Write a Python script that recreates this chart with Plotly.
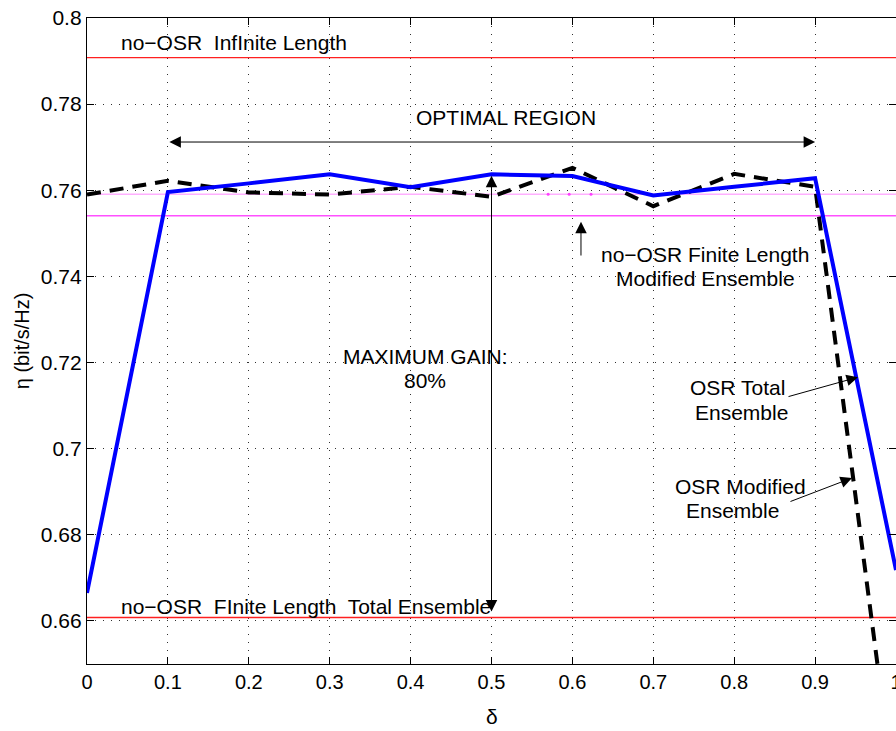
import plotly.graph_objects as go

# ---- data ----
delta = [0.0, 0.1, 0.2, 0.3, 0.4, 0.5, 0.6, 0.7, 0.8, 0.9, 1.0]
osr_total = [0.6665, 0.7596, 0.7616, 0.7637, 0.7607, 0.7637, 0.7633, 0.7588, 0.7608, 0.7628, 0.6718]
osr_modified = [0.7590, 0.7622, 0.7595, 0.7590, 0.7608, 0.7585, 0.7652, 0.7563, 0.7638, 0.7608, 0.6170]

ref_x = [0.0, 1.0]
no_osr_infinite = 0.7908
no_osr_finite_total = 0.6608
no_osr_finite_modified = 0.7541
no_osr_dotted = 0.7591
dot_x = [0.570, 0.596, 0.623]

x_ticks = [0, 0.1, 0.2, 0.3, 0.4, 0.5, 0.6, 0.7, 0.8, 0.9, 1]
x_labels = ["0", "0.1", "0.2", "0.3", "0.4", "0.5", "0.6", "0.7", "0.8", "0.9", "1"]
y_ticks = [0.66, 0.68, 0.70, 0.72, 0.74, 0.76, 0.78, 0.80]
y_labels = ["0.66", "0.68", "0.7", "0.72", "0.74", "0.76", "0.78", "0.8"]

FONT = "Liberation Sans, Arial, Helvetica, sans-serif"

fig = go.Figure()

fig.add_trace(go.Scatter(x=ref_x, y=[no_osr_infinite] * 2, mode="lines",
                         line=dict(color="#ff2020", width=1.2), showlegend=False))
fig.add_trace(go.Scatter(x=ref_x, y=[no_osr_finite_total] * 2, mode="lines",
                         line=dict(color="#ff2020", width=1.4), showlegend=False))
fig.add_trace(go.Scatter(x=ref_x, y=[no_osr_dotted] * 2, mode="lines",
                         line=dict(color="#ffb0ff", width=1.5), showlegend=False))
fig.add_trace(go.Scatter(x=dot_x, y=[no_osr_dotted] * len(dot_x), mode="markers",
                         marker=dict(color="#ff40ff", size=3), showlegend=False))
fig.add_trace(go.Scatter(x=ref_x, y=[no_osr_finite_modified] * 2, mode="lines",
                         line=dict(color="#ff50ff", width=1.5), showlegend=False))
fig.add_trace(go.Scatter(x=delta, y=osr_modified, mode="lines",
                         line=dict(color="black", width=4, dash="14px,9px"), showlegend=False))
fig.add_trace(go.Scatter(x=delta, y=osr_total, mode="lines",
                         line=dict(color="#0000ff", width=4), showlegend=False))

tfont = dict(family=FONT, size=21, color="black")

def text(x, y, s, xanchor="center"):
    fig.add_annotation(x=x, y=y, xref="x", yref="y", text=s, showarrow=False,
                       xanchor=xanchor, yanchor="middle", font=tfont, align="center")

def arrow(x0, y0, x1, y1, both=False):
    fig.add_annotation(x=x1, y=y1, ax=x0, ay=y0, xref="x", yref="y", axref="x", ayref="y",
                       text="", showarrow=True, arrowhead=2, arrowsize=2.3, arrowwidth=1,
                       arrowcolor="black", arrowside="end+start" if both else "end")

text(0.040, 0.7942, "no\u2212OSR  InfInite Length", xanchor="left")
text(0.518, 0.7768, "OPTIMAL REGION")
arrow(0.1, 0.7712, 0.9, 0.7712, both=True)
text(0.764, 0.7452, "no\u2212OSR Finite Length")
text(0.764, 0.7394, "Modified Ensemble")
arrow(0.6106, 0.7445, 0.6106, 0.7527)
text(0.418, 0.7213, "MAXIMUM GAIN:")
text(0.418, 0.7159, "80%")
arrow(0.5, 0.7637, 0.5, 0.6622, both=True)
text(0.8035, 0.7143, "OSR Total")
text(0.8084, 0.7085, "Ensemble")
text(0.8072, 0.6913, "OSR Modified")
text(0.7985, 0.6857, "Ensemble")
arrow(0.8653, 0.7120, 0.953, 0.7166)
arrow(0.8677, 0.6876, 0.9456, 0.6932)
text(0.040, 0.6634, "no\u2212OSR  FInite Length  Total Ensemble", xanchor="left")

# axis titles
fig.add_annotation(x=-0.080, y=0.5, xref="paper", yref="paper", text="\u03b7 (bit/s/Hz)",
                   showarrow=False, textangle=-90, xanchor="center", yanchor="middle",
                   font=dict(family=FONT, size=20, color="black"))
fig.add_annotation(x=0.5, y=-0.0805, xref="x", yref="paper", text="\u03b4", showarrow=False,
                   font=dict(family=FONT, size=21, color="black"), yanchor="middle")

axis_common = dict(showline=True, linecolor="black", linewidth=1.3, mirror="ticks",
                   ticks="inside", ticklen=7, tickcolor="black", tickwidth=1,
                   showgrid=True, gridcolor="#303030", gridwidth=1, griddash="1px,7px",
                   zeroline=False, ticklabeloverflow="allow", automargin=False)

fig.update_xaxes(range=[0, 1], tickvals=x_ticks, ticktext=x_labels,
                 tickfont=dict(family=FONT, size=20, color="black"), **axis_common)
fig.update_yaxes(range=[0.65, 0.8], tickvals=y_ticks, ticktext=y_labels,
                 tickfont=dict(family=FONT, size=21, color="black"), **axis_common)

fig.update_layout(width=896, height=731, margin=dict(l=87, r=0, t=18, b=67),
                  plot_bgcolor="white", paper_bgcolor="white", showlegend=False)

fig.write_html("out.html")
